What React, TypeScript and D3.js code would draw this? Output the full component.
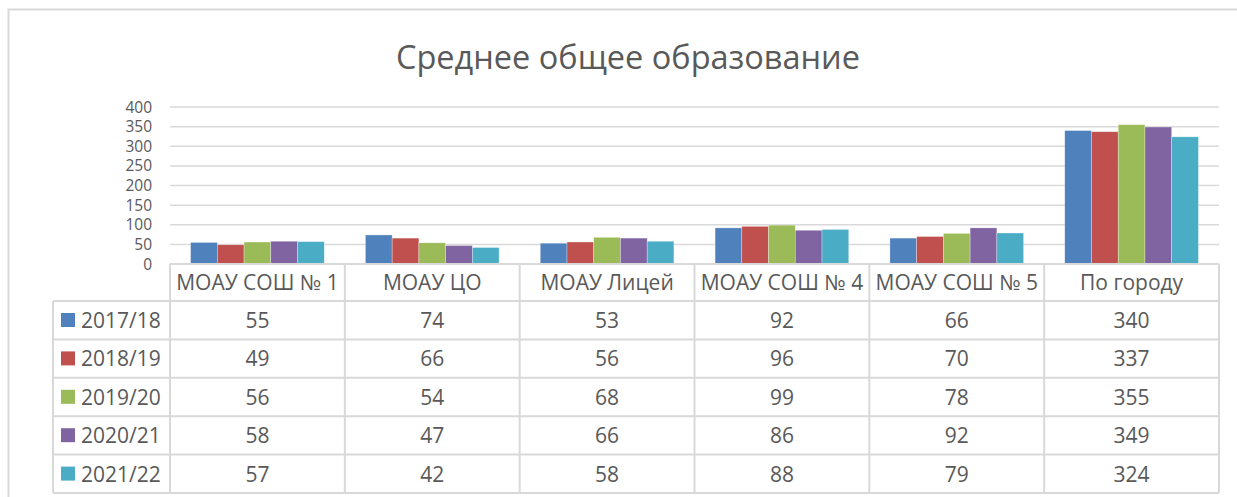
import React, { useEffect, useRef } from "react";
import * as d3 from "d3";

const categories = ["МОАУ СОШ № 1", "МОАУ ЦО", "МОАУ Лицей", "МОАУ СОШ № 4", "МОАУ СОШ № 5", "По городу"];
const years = ["2017/18", "2018/19", "2019/20", "2020/21", "2021/22"];
const v2017 = [55, 74, 53, 92, 66, 340];
const v2018 = [49, 66, 56, 96, 70, 337];
const v2019 = [56, 54, 68, 99, 78, 355];
const v2020 = [58, 47, 66, 86, 92, 349];
const v2021 = [57, 42, 58, 88, 79, 324];
const yTicks = [0, 50, 100, 150, 200, 250, 300, 350, 400];
const colors = ["#4F81BD", "#C0504D", "#9BBB59", "#8064A2", "#4BACC6"];

const series = [v2017, v2018, v2019, v2020, v2021];

export default function App() {
  const ref = useRef<SVGSVGElement>(null);

  useEffect(() => {
    const svg = d3.select(ref.current);
    svg.selectAll("*").remove();

    const W = 1237;
    const H = 497;
    const plotL = 170;
    const plotR = 1219;
    const plotT = 107;
    const plotB = 264;
    const rowH = 38.4;
    const headerB = 301;
    const legendL = 53;
    const font = "'Open Sans', sans-serif";
    const txt = "#595959";
    const gridC = "#d9d9d9";

    // outer frame
    svg.append("rect")
      .attr("x", 8.5).attr("y", 9.5)
      .attr("width", W + 20).attr("height", H + 20)
      .attr("fill", "#fff").attr("stroke", gridC).attr("stroke-width", 2);

    svg.append("text")
      .attr("x", 628).attr("y", 69)
      .attr("text-anchor", "middle")
      .attr("font-family", font).attr("font-size", 32.5)
      .attr("fill", txt)
      .text("Среднее общее образование");

    const y = d3.scaleLinear().domain([0, 400]).range([plotB, plotT]);
    const x = d3.scaleBand().domain(categories).range([plotL, plotR]).padding(0);
    const xs = d3.scaleBand<number>().domain(d3.range(series.length))
      .range([0, x.bandwidth()]).paddingInner(0).paddingOuter(0.77);

    // gridlines
    svg.append("g").selectAll("line").data(yTicks.slice(1)).join("line")
      .attr("x1", plotL).attr("x2", plotR)
      .attr("y1", (d) => y(d)).attr("y2", (d) => y(d))
      .attr("stroke", gridC).attr("stroke-width", 1.5);

    // y labels
    svg.append("g").selectAll("text").data(yTicks).join("text")
      .attr("x", 152).attr("y", (d) => y(d) + 5.5)
      .attr("text-anchor", "end")
      .attr("font-family", font).attr("font-size", 15.5)
      .attr("fill", txt)
      .text((d) => d);

    // bars
    series.forEach((vals, si) => {
      svg.append("g").selectAll("rect").data(vals).join("rect")
        .attr("x", (_, i) => (x(categories[i]) as number) + (xs(si) as number))
        .attr("y", (d) => y(d))
        .attr("width", xs.bandwidth())
        .attr("height", (d) => plotB - y(d))
        .attr("fill", colors[si])
        .attr("stroke", "rgba(255,255,255,0.5)")
        .attr("stroke-width", 0.6);
    });

    // data table
    const tg = svg.append("g").attr("stroke", gridC).attr("stroke-width", 2);
    const rowYs = d3.range(years.length + 1).map((i) => headerB + i * rowH);
    tg.append("line").attr("x1", plotL).attr("x2", plotR).attr("y1", plotB).attr("y2", plotB);
    tg.selectAll("line.row").data(rowYs).join("line").attr("class", "row")
      .attr("x1", legendL).attr("x2", plotR)
      .attr("y1", (d) => d).attr("y2", (d) => d);
    const colXs = categories.map((c) => x(c) as number).concat([plotR]);
    tg.selectAll("line.col").data(colXs).join("line").attr("class", "col")
      .attr("x1", (d) => d).attr("x2", (d) => d)
      .attr("y1", plotB).attr("y2", rowYs[rowYs.length - 1]);
    tg.append("line").attr("x1", legendL).attr("x2", legendL)
      .attr("y1", headerB).attr("y2", rowYs[rowYs.length - 1]);

    // header labels
    svg.append("g").selectAll("text").data(categories).join("text")
      .attr("x", (d) => (x(d) as number) + x.bandwidth() / 2)
      .attr("y", 290)
      .attr("text-anchor", "middle")
      .attr("font-family", font).attr("font-size", 21)
      .attr("fill", txt)
      .text((d) => d);

    // legend column + values
    years.forEach((yr, si) => {
      const rowTop = rowYs[si];
      svg.append("rect")
        .attr("x", 61).attr("y", rowTop + 12)
        .attr("width", 14).attr("height", 14)
        .attr("fill", colors[si]);
      svg.append("text")
        .attr("x", 81).attr("y", rowTop + 27)
        .attr("font-family", font).attr("font-size", 21)
        .attr("fill", txt)
        .text(yr);
      svg.append("g").selectAll("text").data(series[si]).join("text")
        .attr("x", (_, i) => (x(categories[i]) as number) + x.bandwidth() / 2)
        .attr("y", rowTop + 27)
        .attr("text-anchor", "middle")
        .attr("font-family", font).attr("font-size", 21)
        .attr("fill", txt)
        .text((d) => d);
    });
  }, []);

  return (
    <svg
      ref={ref}
      width={1237}
      height={497}
      style={{ position: "absolute", left: 0, top: 0, background: "#fff" }}
    />
  );
}
